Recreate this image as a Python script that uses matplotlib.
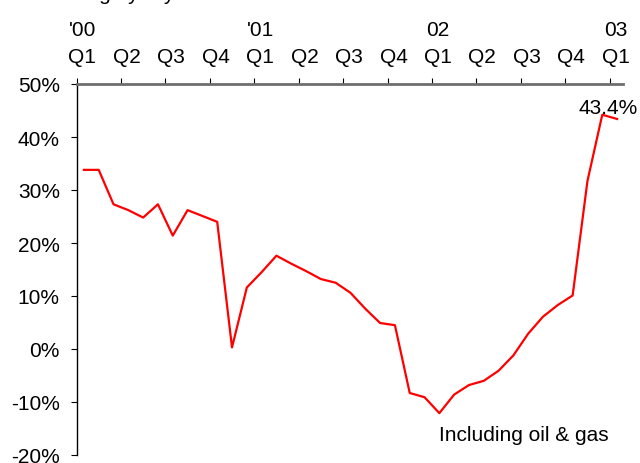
import numpy as np
import pandas as pd
import matplotlib
matplotlib.use("Agg")
import matplotlib.pyplot as plt

plt.rcParams['font.family'] = ['Liberation Sans', 'DejaVu Sans']

## monthly growth, Jan 2000 - Jan 2003
months = pd.period_range('2000-01', '2003-01', freq='M')
growth = [33.8, 33.8, 27.3, 26.2, 24.8, 27.3, 21.4, 26.2, 25.1, 24.0,
          0.3, 11.6, 14.5, 17.6, 16.1, 14.7, 13.2, 12.5, 10.6, 7.6,
          4.9, 4.5, -8.3, -9.1, -12.1, -8.6, -6.8, -6.0, -4.1, -1.2,
          2.9, 6.1, 8.3, 10.1, 31.7, 44.2, 43.4]
quarter_labels = ['Q1', 'Q2', 'Q3', 'Q4'] * 3 + ['Q1']
year_labels = {0: "'00", 12: "'01", 24: "02", 36: "03"}
y_ticks = [-20, -10, 0, 10, 20, 30, 40, 50]
title = "Change y-o-y"
note = "Including oil & gas"

fs = 15
x = np.arange(len(months)) + 0.5

fig = plt.figure(figsize=(6.4, 4.64), dpi=100)
ax = fig.add_axes([76.5 / 640, 1 - 456 / 464, 546.5 / 640, 371 / 464])

ax.plot(x, growth, color='red', lw=1.6)

ax.set_xlim(0, 36.9)
ax.set_ylim(-20, 50)

ax.spines['right'].set_visible(False)
ax.spines['bottom'].set_visible(False)
ax.spines['top'].set_color('#6e6e6e')
ax.spines['top'].set_linewidth(2)
ax.spines['left'].set_color('black')
ax.spines['left'].set_linewidth(1)

ax.xaxis.set_ticks_position('top')
ax.set_xticks(np.arange(0, 37, 3))
ax.set_xticklabels([])
ax.tick_params(axis='x', direction='out', length=4.5, width=0.8, color='black')

ax.set_yticks(y_ticks)
ax.set_yticklabels([f'{v}%' for v in y_ticks])
ax.tick_params(axis='y', direction='out', length=4, width=0.8, pad=8,
               labelsize=fs, color='black')

tr = ax.get_xaxis_transform()
for k, q in enumerate(quarter_labels):
    ax.text(k * 3 + 0.4, 1.0593, q, transform=tr, ha='center', va='baseline',
            fontsize=fs, clip_on=False)
for m, yl in year_labels.items():
    ax.text(m + 0.4, 1.1321, yl, transform=tr, ha='center', va='baseline',
            fontsize=fs, clip_on=False)

ax.annotate(f'{growth[-1]:.1f}%', xy=(x[-1], growth[-1]), xytext=(21, 6.4),
            textcoords='offset pixels', ha='right', va='baseline',
            fontsize=fs, annotation_clip=False)

ax.text(0.663, 0.040, note, transform=ax.transAxes, ha='left', va='baseline',
        fontsize=fs)

# title sits mostly above the canvas, only descenders show
fig.text(49 / 640, 1 + 0.5 / 464, title, ha='left', va='baseline', fontsize=fs)

fig.savefig('out.png', dpi=100)
